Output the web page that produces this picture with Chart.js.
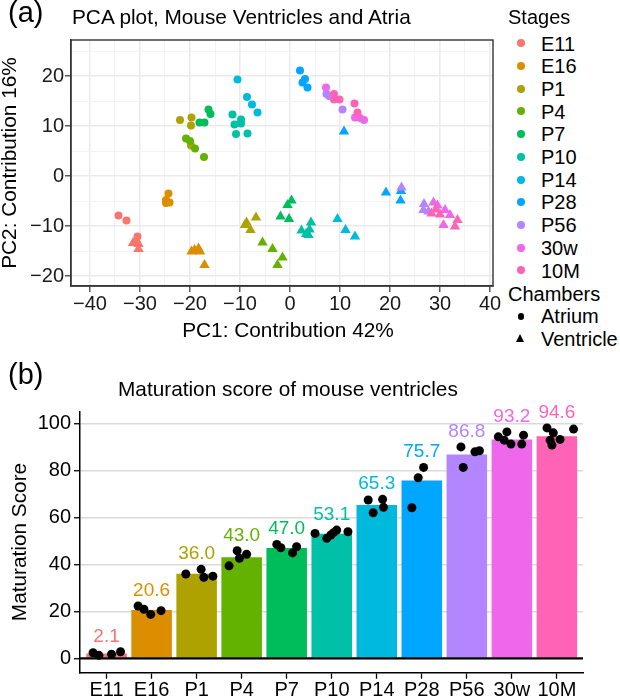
<!DOCTYPE html>
<html>
<head>
<meta charset="utf-8">
<script src="https://cdn.jsdelivr.net/npm/chart.js@4.4.1/dist/chart.umd.min.js"></script>
<style>
  body { margin: 0; background: #fff; font-family: "Liberation Sans", Arial, Helvetica, sans-serif; color: #000; }
  #page { position: relative; width: 620px; height: 698px; overflow: hidden; }
  .t { position: absolute; white-space: nowrap; line-height: 1; }
  .dot { position: absolute; width: 8px; height: 8px; border-radius: 50%; }
  #pcaWrap { position: absolute; left: 0; top: 0; }
  #barWrap { position: absolute; left: 0; top: 396px; }
</style>
</head>
<body>
<div id="page">
  <div id="pcaWrap"><canvas id="pcaChart" width="505" height="360"></canvas></div>
  <div id="barWrap"><canvas id="barChart" width="620" height="302"></canvas></div>

  <div class="t" style="left:8px;top:-2px;font-size:29px">(a)</div>
  <div class="t" style="left:72px;top:6.5px;font-size:20.8px">PCA plot, Mouse Ventricles and Atria</div>
  <div class="t" style="left:288px;top:319.5px;font-size:20.8px;transform:translateX(-50%)">PC1: Contribution 42%</div>
  <div class="t" style="left:9px;top:163px;font-size:20.8px;transform:translate(-50%,-50%) rotate(-90deg)">PC2: Contribution 16%</div>

  <div id="legend"></div>

  <div class="t" style="left:8px;top:360px;font-size:29px">(b)</div>
  <div class="t" style="left:118px;top:378.5px;font-size:20.8px">Maturation score of mouse ventricles</div>
  <div class="t" style="left:19px;top:542px;font-size:20.8px;transform:translate(-50%,-50%) rotate(-90deg)">Maturation Score</div>
</div>

<script>
const FONT = '"Liberation Sans", Arial, Helvetica, sans-serif';

const stages = ['E11', 'E16', 'P1', 'P4', 'P7', 'P10', 'P14', 'P28', 'P56', '30w', '10M'];
const stageColors = ['#F8766D', '#DB8E00', '#AEA200', '#64B200', '#00BD5C', '#00C1A7',
                     '#00BADE', '#00A6FF', '#B385FF', '#EF67EB', '#FF63B6'];

// PCA coordinates, one list per stage
const atriumPC1 = [
  [-34.3, -32.7, -30.5],
  [-24.3, -24.8, -24.8, -24.1],
  [-22.0, -19.7, -19.8, -19.8],
  [-20.8, -20.0, -19.0, -17.2],
  [-18.1, -17.1, -16.3, -15.9],
  [-11.5, -11.1, -9.8, -9.8, -10.8, -8.5],
  [-10.5, -8.6, -7.6, -6.5],
  [2.0, 3.0, 2.5, 3.5],
  [7.3, 7.8, 10.5],
  [7.2, 13.0, 14.0, 14.8],
  [8.8, 8.8, 9.9, 12.9, 13.5]
];
const atriumPC2 = [
  [-7.9, -8.9, -12.1],
  [-3.5, -4.8, -5.4, -5.3],
  [11.2, 11.7, 10.1, 6.1],
  [7.5, 7.0, 5.5, 3.8],
  [10.7, 10.7, 13.3, 12.4],
  [12.3, 10.3, 11.3, 10.5, 8.4, 8.5],
  [19.3, 15.8, 14.3, 12.7],
  [21.1, 19.4, 18.7, 17.7],
  [16.4, 16.0, 13.3],
  [17.7, 11.7, 11.6, 11.2],
  [16.4, 15.3, 15.3, 14.5, 12.7]
];
const ventriclePC1 = [
  [-30.8, -30.3, -30.3, -31.4],
  [-19.1, -18.3, -18.0, -19.7, -17.1],
  [-8.7, -7.9, -6.8, -9.0],
  [-5.5, -3.5, -1.5, -2.5],
  [-1.9, -0.2, -0.5, 0.3],
  [2.3, 3.7, 3.9, 4.2, 3.2],
  [9.5, 11.1, 13.0],
  [10.8, 19.2, 22.1, 22.2],
  [22.3, 26.8, 26.7, 27.7],
  [28.7, 29.5, 31.0, 32.0, 30.7],
  [28.3, 30.0, 33.5, 33.0, 29.2]
];
const ventriclePC2 = [
  [-12.8, -13.6, -14.6, -13.4],
  [-14.8, -14.5, -15.1, -15.1, -17.8],
  [-9.3, -10.8, -8.3, -9.8],
  [-13.3, -14.6, -16.3, -17.8],
  [-8.1, -8.6, -5.8, -4.9],
  [-10.9, -11.8, -10.7, -9.3, -11.6],
  [-8.6, -10.8, -12.1],
  [8.9, -3.3, -4.9, -3.0],
  [-2.3, -5.6, -6.8, -7.1],
  [-5.3, -5.9, -6.8, -7.8, -9.8],
  [-7.5, -7.7, -8.8, -10.1, -6.7]
];
const pcaXBreaks = [-40, -30, -20, -10, 0, 10, 20, 30, 40];
const pcaYBreaks = [-20, -10, 0, 10, 20];
const pcaXLimits = [-43.8, 40.6];
const pcaYLimits = [-22, 27.2];

// maturation scores of ventricle samples
const maturationMean = [2.1, 20.6, 36.0, 43.0, 47.0, 53.1, 65.3, 75.7, 86.8, 93.2, 94.6];
const maturationSamples = [
  [2.4, 1.3, 1.8, 2.8],
  [22.3, 20.9, 18.7, 20.3],
  [35.9, 37.9, 34.5, 35.0],
  [39.4, 45.8, 42.6, 44.3],
  [48.5, 47.1, 44.9, 47.5],
  [53.2, 51.1, 52.5, 53.5, 54.6, 53.9],
  [67.4, 62.0, 67.7, 64.3],
  [64.1, 76.9, 81.3],
  [90.0, 81.3, 87.9, 88.4],
  [94.3, 96.4, 92.9, 91.2, 91.2, 95.0],
  [98.1, 96.0, 92.9, 90.8, 93.2, 97.6]
];
const sampleJitter = [
  [-0.30, -0.17, 0.11, 0.31],
  [-0.30, -0.17, -0.02, 0.21],
  [-0.24, 0.10, 0.16, 0.36],
  [-0.28, -0.10, -0.05, 0.11],
  [-0.22, -0.13, 0.13, 0.22],
  [-0.37, -0.11, -0.02, 0.04, 0.11, 0.36],
  [-0.19, -0.08, 0.13, 0.15],
  [-0.22, -0.08, 0.04],
  [-0.13, -0.08, 0.18, 0.28],
  [-0.30, -0.11, -0.17, -0.02, 0.22, 0.26],
  [-0.22, -0.08, -0.15, -0.11, 0.07, 0.37]
];
const barYBreaks = [0, 20, 40, 60, 80, 100];

const minus = v => String(v).replace('-', '\u2212');

function withMinor(majors, lims) {
  const half = (majors[1] - majors[0]) / 2;
  const all = majors.slice();
  majors.forEach(b => {
    const m = b + half;
    if (m > lims[0] && m < lims[1]) all.push(m);
  });
  return all.sort((a, b) => a - b);
}

// legend
const legend = document.getElementById('legend');
let html = '<div class="t" style="left:508px;top:6.5px;font-size:20px">Stages</div>';
stages.forEach((s, i) => {
  const cy = 43.3 + i * 22.7;
  html += `<span class="dot" style="left:${516.7}px;top:${cy - 4}px;background:${stageColors[i]}"></span>`;
  html += `<div class="t" style="left:541px;top:${cy - 9.8}px;font-size:20px">${s}</div>`;
});
html += '<div class="t" style="left:508px;top:283.5px;font-size:20px">Chambers</div>';
html += '<span class="dot" style="left:517.5px;top:313px;width:6.5px;height:6.5px;background:#000"></span>';
html += '<div class="t" style="left:541px;top:306px;font-size:20px">Atrium</div>';
html += '<span style="position:absolute;left:516px;top:334px;width:0;height:0;border-left:4.7px solid transparent;border-right:4.7px solid transparent;border-bottom:8.2px solid #000"></span>';
html += '<div class="t" style="left:541px;top:328.5px;font-size:20px">Ventricle</div>';
legend.innerHTML = html;

// PCA scatter
const pcaDatasets = [];
stages.forEach((s, i) => {
  pcaDatasets.push({
    label: s + ' Atrium',
    data: atriumPC1[i].map((x, k) => ({ x: x, y: atriumPC2[i][k] })),
    pointStyle: 'circle',
    pointRadius: 4,
    pointBackgroundColor: stageColors[i],
    pointBorderColor: stageColors[i],
    pointBorderWidth: 0,
    order: 2 * (stages.length - i)
  });
  pcaDatasets.push({
    label: s + ' Ventricle',
    data: ventriclePC1[i].map((x, k) => ({ x: x, y: ventriclePC2[i][k] })),
    pointStyle: 'triangle',
    pointRadius: 6,
    pointBackgroundColor: stageColors[i],
    pointBorderColor: stageColors[i],
    pointBorderWidth: 0,
    order: 2 * (stages.length - i) - 1
  });
});

const panelBorder = {
  id: 'panelBorder',
  afterDatasetsDraw(chart) {
    const a = chart.chartArea, ctx = chart.ctx;
    ctx.save();
    ctx.strokeStyle = '#333';
    ctx.lineWidth = 1.4;
    ctx.strokeRect(a.left, a.top, a.right - a.left, a.bottom - a.top);
    ctx.restore();
  }
};

function pcaAxis(majors, lims, isX) {
  const ticks = withMinor(majors, lims);
  const major = c => c.tick && majors.includes(c.tick.value);
  return {
    type: 'linear',
    min: lims[0],
    max: lims[1],
    afterBuildTicks: axis => { axis.ticks = ticks.map(v => ({ value: v })); },
    afterFit: s => { if (isX) s.height = 74; else s.width = 71; },
    ticks: {
      callback: v => majors.includes(v) ? minus(v) : '',
      color: '#1a1a1a',
      font: { family: FONT, size: 20 },
      padding: isX ? 0 : 1,
      maxRotation: 0,
      autoSkip: false
    },
    grid: {
      color: c => major(c) ? '#EBEBEB' : '#F2F2F2',
      lineWidth: c => major(c) ? 1.6 : 0.9,
      tickColor: c => major(c) ? '#333' : 'rgba(0,0,0,0)',
      tickLength: 6,
      tickWidth: 1.2
    },
    border: { display: true, color: '#333', width: 1.4 }
  };
}

new Chart(document.getElementById('pcaChart'), {
  type: 'scatter',
  data: { datasets: pcaDatasets },
  options: {
    responsive: false,
    animation: false,
    events: [],
    layout: { padding: { top: 40, right: 12, left: 0, bottom: 0 } },
    plugins: { legend: { display: false }, tooltip: { enabled: false } },
    scales: {
      x: pcaAxis(pcaXBreaks, pcaXLimits, true),
      y: pcaAxis(pcaYBreaks, pcaYLimits, false)
    }
  },
  plugins: [panelBorder]
});

// bar chart with jittered samples
const sampleDots = [];
maturationSamples.forEach((vals, i) => {
  vals.forEach((v, k) => sampleDots.push({ x: i + sampleJitter[i][k], y: v }));
});

const zeroLine = {
  id: 'zeroLine',
  afterDatasetDraw(chart, args) {
    if (args.index !== 1) return;
    const a = chart.chartArea, ctx = chart.ctx;
    const y = chart.scales.y.getPixelForValue(0);
    ctx.save();
    ctx.strokeStyle = '#000';
    ctx.lineWidth = 2.2;
    ctx.beginPath();
    ctx.moveTo(a.left, y);
    ctx.lineTo(a.right, y);
    ctx.stroke();
    ctx.restore();
  }
};

const valueLabels = {
  id: 'valueLabels',
  afterDatasetsDraw(chart) {
    const ctx = chart.ctx, xs = chart.scales.x, ys = chart.scales.y;
    ctx.save();
    ctx.font = '19px ' + FONT;
    ctx.textAlign = 'center';
    ctx.textBaseline = 'middle';
    maturationMean.forEach((m, i) => {
      const top = Math.max(...maturationSamples[i]) + 6.5;
      ctx.fillStyle = stageColors[i];
      ctx.fillText(m.toFixed(1), xs.getPixelForValue(i), ys.getPixelForValue(top));
    });
    ctx.restore();
  }
};

new Chart(document.getElementById('barChart'), {
  type: 'bar',
  data: {
    datasets: [
      {
        type: 'scatter',
        data: sampleDots,
        pointRadius: 4.5,
        pointBackgroundColor: '#000',
        pointBorderColor: '#000',
        pointBorderWidth: 0,
        order: 0
      },
      {
        type: 'bar',
        data: maturationMean.map((v, i) => ({ x: i, y: v })),
        backgroundColor: stageColors,
        borderWidth: 0,
        barPercentage: 0.9,
        categoryPercentage: 1.0,
        order: 1
      }
    ]
  },
  options: {
    responsive: false,
    animation: false,
    events: [],
    layout: { padding: { top: 15.7, right: 37, left: 0, bottom: 0 } },
    plugins: { legend: { display: false }, tooltip: { enabled: false } },
    scales: {
      x: {
        type: 'linear',
        min: -0.59,
        max: 10.58,
        offset: false,
        afterBuildTicks: axis => { axis.ticks = stages.map((s, i) => ({ value: i })); },
        afterFit: s => { s.height = 25.3; },
        ticks: {
          callback: v => stages[v],
          color: '#000',
          font: { family: FONT, size: 20 },
          padding: 0,
          maxRotation: 0,
          autoSkip: false
        },
        grid: { offset: false, drawOnChartArea: false, tickLength: 6, tickColor: '#000', tickWidth: 1.3 },
        border: { display: true, color: '#000', width: 1.5 }
      },
      y: {
        type: 'linear',
        min: -6.1,
        max: 105,
        afterBuildTicks: axis => { axis.ticks = barYBreaks.map(v => ({ value: v })); },
        afterFit: s => { s.width = 80; },
        ticks: {
          color: '#000',
          font: { family: FONT, size: 20 },
          padding: 3
        },
        grid: { color: '#DADADA', lineWidth: 1.5, tickLength: 6, tickColor: '#000', tickWidth: 1.3 },
        border: { display: true, color: '#000', width: 1.5 }
      }
    }
  },
  plugins: [zeroLine, valueLabels]
});
</script>
</body>
</html>
